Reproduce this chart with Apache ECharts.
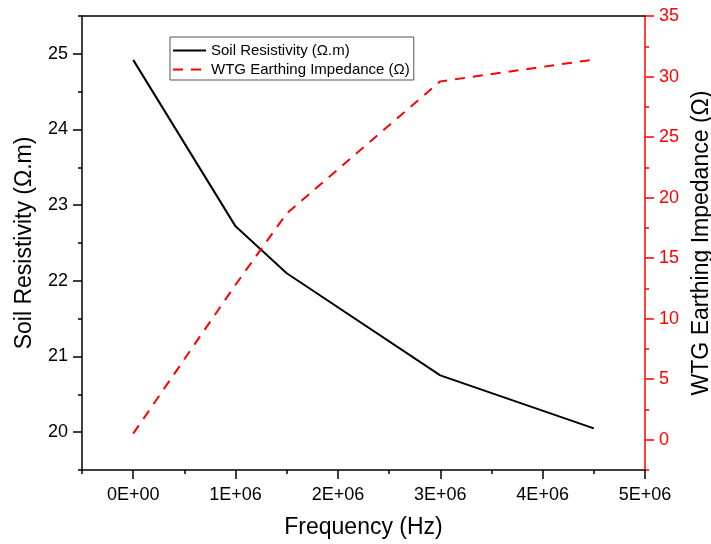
<!DOCTYPE html>
<html>
<head>
<meta charset="utf-8">
<script src="https://cdn.jsdelivr.net/npm/echarts@6/dist/echarts.min.js"></script>
<style>
html,body{margin:0;padding:0;background:#fff;}
#main{width:711px;height:544px;}
</style>
</head>
<body>
<div id="main"></div>
<script>
// Data
const frequency = [0, 1000000, 1500000, 3000000, 4500000];
const soilResistivity = [24.92, 22.72, 22.10, 20.75, 20.05];
const earthingImpedance = [0.5, 12.8, 18.7, 29.6, 31.4];

// Tick values
const xMajorTicks = [0, 1000000, 2000000, 3000000, 4000000, 5000000];
const xMinorTicks = [-500000, 500000, 1500000, 2500000, 3500000, 4500000];
const yLeftMajorTicks = [20, 21, 22, 23, 24, 25];
const yLeftMinorTicks = [19.5, 20.5, 21.5, 22.5, 23.5, 24.5, 25.5];
const yRightMajorTicks = [0, 5, 10, 15, 20, 25, 30, 35];
const yRightMinorTicks = [-2.5, 2.5, 7.5, 12.5, 17.5, 22.5, 27.5, 32.5];

const seriesNames = ['Soil Resistivity (\u03A9.m)', 'WTG Earthing Impedance (\u03A9)'];
const axisTitles = {
  x: 'Frequency (Hz)',
  yLeft: 'Soil Resistivity (\u03A9.m)',
  yRight: 'WTG Earthing Impedance (\u03A9)'
};

const FONT = 'Liberation Sans, Arial, sans-serif';

function sci(v) {
  if (v === 0) return '0E+00';
  const e = Math.floor(Math.log10(Math.abs(v)) + 1e-9);
  const m = Math.round(v / Math.pow(10, e) * 100) / 100;
  return m + 'E+' + (e < 10 ? '0' + e : e);
}

const chart = echarts.init(document.getElementById('main'), null, {renderer: 'canvas'});

const xRange = {min: -500000, max: 5000000};
const yLRange = {min: 19.5, max: 25.5};
const yRRange = {min: -2.5, max: 35};

const TICK_FS = 18;
const TITLE_FS = 23;

const option = {
  backgroundColor: '#fff',
  animation: false,
  textStyle: {fontFamily: FONT},
  grid: {left: 82, right: 66, top: 16, bottom: 74, containLabel: false, outerBoundsMode: 'none'},
  legend: {
    left: 170, top: 37,
    orient: 'vertical',
    itemWidth: 33, itemHeight: 15, itemGap: 4,
    padding: [6, 4, 3, 2],
    borderColor: '#555', borderWidth: 1,
    textStyle: {fontSize: 15, color: '#000', fontFamily: FONT},
    itemStyle: {opacity: 0, borderWidth: 0},
    data: seriesNames
  },
  xAxis: [
    {
      type: 'value', position: 'bottom', ...xRange,
      axisLine: {show: true, onZero: false, lineStyle: {color: '#000', width: 1.5}},
      axisTick: {show: true, inside: false, length: 9, lineStyle: {color: '#000', width: 1.5}, customValues: xMajorTicks},
      axisLabel: {show: true, fontSize: TICK_FS, color: '#000', margin: 16, fontFamily: FONT, customValues: xMajorTicks, formatter: sci},
      splitLine: {show: false},
      name: axisTitles.x, nameLocation: 'middle', nameGap: 46,
      nameTextStyle: {fontSize: TITLE_FS, color: '#000', fontFamily: FONT}
    },
    {
      type: 'value', position: 'bottom', ...xRange,
      axisLine: {show: false, onZero: false},
      axisTick: {show: true, length: 4, lineStyle: {color: '#000', width: 1.5}, customValues: xMinorTicks},
      axisLabel: {show: false},
      splitLine: {show: false}
    },
    {
      type: 'value', position: 'top', ...xRange,
      axisLine: {show: true, onZero: false, lineStyle: {color: '#000', width: 1.5}},
      axisTick: {show: false}, axisLabel: {show: false}, splitLine: {show: false}
    }
  ],
  yAxis: [
    {
      type: 'value', position: 'left', ...yLRange,
      axisLine: {show: true, onZero: false, lineStyle: {color: '#000', width: 1.5}},
      axisTick: {show: true, length: 9, lineStyle: {color: '#000', width: 1.5}, customValues: yLeftMajorTicks},
      axisLabel: {show: true, fontSize: TICK_FS, color: '#000', margin: 14, fontFamily: FONT, customValues: yLeftMajorTicks},
      splitLine: {show: false},
      name: axisTitles.yLeft, nameLocation: 'middle', nameGap: 46, nameRotate: 90,
      nameTextStyle: {fontSize: TITLE_FS, color: '#000', fontFamily: FONT}
    },
    {
      type: 'value', position: 'left', ...yLRange,
      axisLine: {show: false, onZero: false},
      axisTick: {show: true, length: 4, lineStyle: {color: '#000', width: 1.5}, customValues: yLeftMinorTicks},
      axisLabel: {show: false}, splitLine: {show: false}
    },
    {
      type: 'value', position: 'right', ...yRRange,
      axisLine: {show: true, onZero: false, lineStyle: {color: '#ff0000', width: 1.5}},
      axisTick: {show: true, length: 9, lineStyle: {color: '#ff0000', width: 1.5}, customValues: yRightMajorTicks},
      axisLabel: {show: true, fontSize: TICK_FS, color: '#ff0000', margin: 14, fontFamily: FONT, customValues: yRightMajorTicks},
      splitLine: {show: false},
      name: axisTitles.yRight, nameLocation: 'middle', nameGap: 42, nameRotate: 90,
      nameTextStyle: {fontSize: TITLE_FS, color: '#000', fontFamily: FONT}
    },
    {
      type: 'value', position: 'right', ...yRRange,
      axisLine: {show: false, onZero: false},
      axisTick: {show: true, length: 4, lineStyle: {color: '#ff0000', width: 1.5}, customValues: yRightMinorTicks},
      axisLabel: {show: false}, splitLine: {show: false}
    }
  ],
  series: [
    {
      name: seriesNames[0], type: 'line', xAxisIndex: 0, yAxisIndex: 0,
      data: frequency.map((f, i) => [f, soilResistivity[i]]),
      symbol: 'none', showSymbol: false,
      lineStyle: {color: '#000', width: 2},
      itemStyle: {color: '#000'}
    },
    {
      name: seriesNames[1], type: 'line', xAxisIndex: 0, yAxisIndex: 2,
      data: frequency.map((f, i) => [f, earthingImpedance[i]]),
      symbol: 'none', showSymbol: false,
      lineStyle: {color: '#ff0000', width: 2, type: [10, 8]},
      itemStyle: {color: '#ff0000'}
    }
  ]
};
chart.setOption(option);
</script>
</body>
</html>
